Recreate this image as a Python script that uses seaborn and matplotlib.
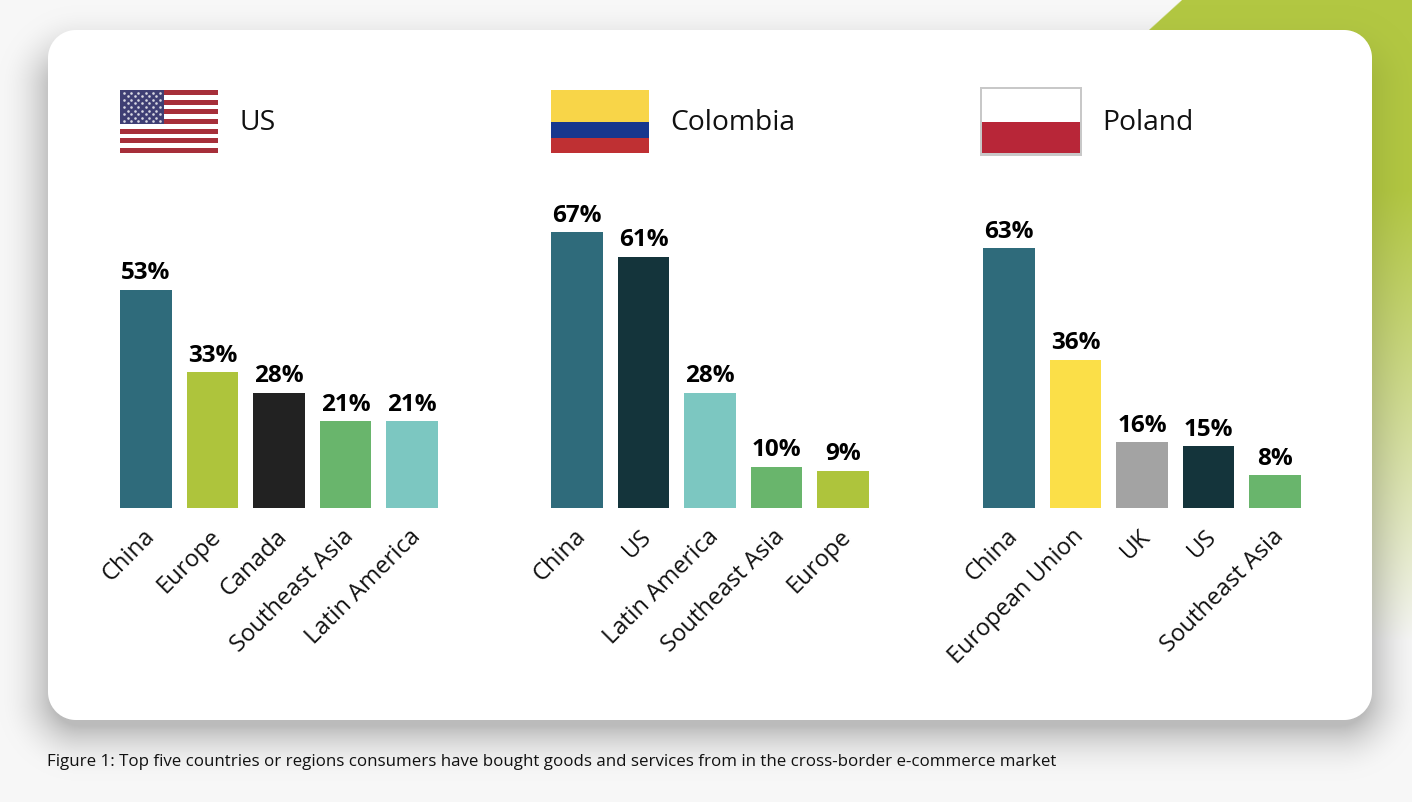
import numpy as np
import matplotlib
matplotlib.use("Agg")
import matplotlib.pyplot as plt
from matplotlib.patches import Rectangle
from matplotlib.transforms import ScaledTranslation
import seaborn as sns

W, H = 1412, 802

# ---- data ----
us_regions = ["China", "Europe", "Canada", "Southeast Asia", "Latin America"]
us_values = [53, 33, 28, 21, 21]
us_colors = ["#2f6b7b", "#aec43c", "#222222", "#69b56c", "#7cc7c1"]

co_regions = ["China", "US", "Latin America", "Southeast Asia", "Europe"]
co_values = [67, 61, 28, 10, 9]
co_colors = ["#2f6b7b", "#14343b", "#7cc7c1", "#69b56c", "#aec43c"]

pl_regions = ["China", "European Union", "UK", "US", "Southeast Asia"]
pl_values = [63, 36, 16, 15, 8]
pl_colors = ["#2f6b7b", "#fbdf48", "#a3a3a3", "#14343b", "#69b56c"]

panel_titles = ["US", "Colombia", "Poland"]
caption = ("Figure 1: Top five countries or regions consumers have bought goods and "
           "services from in the cross-border e-commerce market")

sns.set_theme(style="white")
plt.rcParams["font.family"] = ["Open Sans", "DejaVu Sans"]

fig = plt.figure(figsize=(W / 100, H / 100), dpi=100)

# ---- page background, green corner and card shadow ----
bg = fig.add_axes([0, 0, 1, 1], zorder=0)
yy, xx = np.mgrid[0:H, 0:W]
img = np.ones((H, W, 3)) * (247 / 255)
green = np.array([178, 199, 66]) / 255
fade = np.clip((640 - yy) / 450, 0, 1) ** 0.9
mask = np.clip((xx - (1180 - (yy * 1.1))) / 2, 0, 1) * fade
mask = np.where(yy > 120, np.clip((xx - 1340) / 2, 0, 1) * fade, mask)
img = img * (1 - mask[..., None]) + green * mask[..., None]

def sdf(x0, y0, x1, y1, r):
    cx, cy = (x0 + x1) / 2, (y0 + y1) / 2
    dx = np.abs(xx + .5 - cx) - ((x1 - x0) / 2 - r)
    dy = np.abs(yy + .5 - cy) - ((y1 - y0) / 2 - r)
    return np.hypot(np.maximum(dx, 0), np.maximum(dy, 0)) + np.minimum(np.maximum(dx, dy), 0) - r

d_shadow = sdf(52, 60, 1368, 726, 28)
shadow = 0.24 * np.clip(1 - d_shadow / 55, 0, 1) ** 2.0
shadow = shadow * (1 - 0.65 * mask)
img = img * (1 - shadow[..., None])
d_card = sdf(48, 30, 1372, 720, 28)
card = np.clip(0.5 - d_card, 0, 1)
img = img * (1 - card[..., None]) + card[..., None]
bg.imshow(img, extent=(0, W, H, 0), aspect="auto", interpolation="nearest")
bg.set_xlim(0, W)
bg.set_ylim(H, 0)
bg.axis("off")

# ---- flags, drawn in page pixels ----
def rect(x, y, w, h, c, **kw):
    bg.add_patch(Rectangle((x, y), w, h, facecolor=c, edgecolor="none", zorder=3, **kw))

# US
x0, y0, fw, fh = 120, 90, 98, 63
for i in range(13):
    rect(x0, y0 + i * fh / 13, fw, fh / 13, "#a62f3a" if i % 2 == 0 else "#ffffff")
rect(x0, y0, 44, 34, "#3f3f74")
sx, sy = [], []
for r in range(9):
    n = 6 if r % 2 == 0 else 5
    off = 4 if r % 2 == 0 else 7.6
    for c in range(n):
        sx.append(x0 + off + c * 7.2)
        sy.append(y0 + 2.5 + r * 3.6)
bg.scatter(sx, sy, s=3.5, c="#d8d8e2", linewidths=0, zorder=4)

# Colombia
rect(551, 90, 98, 32, "#f8d548")
rect(551, 122, 98, 16, "#17378e")
rect(551, 138, 98, 15, "#bf3033")

# Poland
rect(980, 87, 102, 69, "#c8c8c8")
rect(982, 89, 98, 33, "#ffffff")
rect(982, 122, 98, 31, "#b82638")

# ---- bar panels ----
def panel(center0, regions, values, colors, title, title_x):
    step = 66.5
    left = center0 - step / 2
    top, base = 180, 508
    ax = fig.add_axes([left / W, 1 - base / H, 5 * step / W, (base - top) / H], zorder=2)
    ax.patch.set_alpha(0)
    sns.barplot(x=regions, y=values, hue=regions, palette=colors, dodge=False,
                width=0.78, saturation=1, legend=False, linewidth=0, ax=ax)
    ax.set_xlim(-0.5, 4.5)
    ax.set_ylim(0, 328 / 4.12)
    ax.set_yticks([])
    ax.set_ylabel("")
    ax.set_xlabel("")
    sns.despine(ax=ax, left=True, bottom=True)
    ax.tick_params(axis="x", length=0, pad=12)
    ax.set_xticks(range(5))
    ax.set_xticklabels(regions, rotation=45, ha="right", rotation_mode="anchor",
                       fontsize=17.1, color="#111111")
    shift = ScaledTranslation(-3.5 / 100, 0, fig.dpi_scale_trans)
    for lab in ax.get_xticklabels():
        lab.set_transform(lab.get_transform() + shift)
    for i, v in enumerate(values):
        ax.annotate(f"{v}%", (i, v), xytext=(0, 3.2), textcoords="offset points",
                    ha="center", va="bottom", fontsize=17.5, fontweight="bold", color="#000000")
    bg.text(title_x, 123, title, fontsize=20.3, color="#111111", va="center",
            ha="left", zorder=5)

panel(146, us_regions, us_values, us_colors, panel_titles[0], 239)
panel(577, co_regions, co_values, co_colors, panel_titles[1], 670)
panel(1009, pl_regions, pl_values, pl_colors, panel_titles[2], 1102)

bg.text(47, 762, caption, fontsize=12.2, color="#111111", va="center", ha="left", zorder=5)

fig.savefig("out.png", dpi=100)
